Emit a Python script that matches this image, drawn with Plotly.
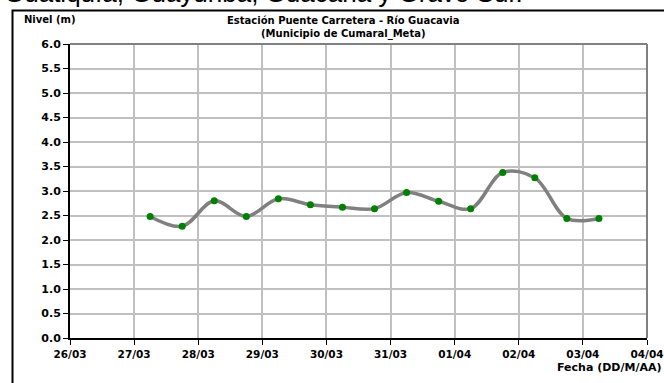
import plotly.graph_objects as go

fechas = ["2013-03-27 06:00", "2013-03-27 18:00", "2013-03-28 06:00", "2013-03-28 18:00",
          "2013-03-29 06:00", "2013-03-29 18:00", "2013-03-30 06:00", "2013-03-30 18:00",
          "2013-03-31 06:00", "2013-03-31 18:00", "2013-04-01 06:00", "2013-04-01 18:00",
          "2013-04-02 06:00", "2013-04-02 18:00", "2013-04-03 06:00"]
nivel = [2.48, 2.28, 2.80, 2.48, 2.84, 2.72, 2.67, 2.64, 2.97, 2.79, 2.64, 3.38, 3.27, 2.44, 2.44]

x_ticks = ["2013-03-26", "2013-03-27", "2013-03-28", "2013-03-29", "2013-03-30",
           "2013-03-31", "2013-04-01", "2013-04-02", "2013-04-03", "2013-04-04"]
x_labels = ["26/03", "27/03", "28/03", "29/03", "30/03", "31/03", "01/04", "02/04", "03/04", "04/04"]
y_ticks = [0.0, 0.5, 1.0, 1.5, 2.0, 2.5, 3.0, 3.5, 4.0, 4.5, 5.0, 5.5, 6.0]

FONT = "DejaVu Sans, Arial, sans-serif"
BIG = "Liberation Sans, Arial, sans-serif"

fig = go.Figure()
fig.add_trace(go.Scatter(
    x=fechas, y=nivel, mode="lines",
    line=dict(color="#808080", width=3.5, shape="spline", smoothing=1.0),
    hoverinfo="skip", showlegend=False))
fig.add_trace(go.Scatter(
    x=fechas, y=nivel, mode="markers",
    marker=dict(color="#008000", size=7),
    showlegend=False))

fig.update_layout(
    width=664, height=383,
    margin=dict(l=70, r=17, t=44, b=45, autoexpand=False),
    paper_bgcolor="white", plot_bgcolor="white",
    font=dict(family=FONT, size=10, color="black"),
    xaxis=dict(
        range=["2013-03-26", "2013-04-04"],
        tickvals=x_ticks, ticktext=["<b>%s</b>" % t for t in x_labels],
        showgrid=True, gridcolor="#c0c0c0", gridwidth=1.5,
        showline=True, linecolor="black", linewidth=2,
        ticks="outside", ticklen=5, tickcolor="black", tickwidth=1,
        tickfont=dict(family=FONT, size=10.5, color="black"),
        automargin=False, zeroline=False),
    yaxis=dict(
        range=[0, 6], tickvals=y_ticks,
        ticktext=["<b>%.1f</b>" % v for v in y_ticks],
        showgrid=True, gridcolor="#c0c0c0", gridwidth=1.5,
        showline=True, linecolor="black", linewidth=2,
        ticks="outside", ticklen=5, tickcolor="black", tickwidth=1,
        tickfont=dict(family=FONT, size=11, color="black"),
        automargin=False, zeroline=False),
)

# grey top/right border of the plot area
fig.add_shape(type="line", xref="paper", yref="paper", x0=0, x1=1, y0=1, y1=1,
              line=dict(color="#808080", width=2))
fig.add_shape(type="line", xref="paper", yref="paper", x0=1, x1=1, y0=0, y1=1,
              line=dict(color="#808080", width=2))

# outer black frame
fig.add_shape(type="rect", xref="paper", yref="paper",
              x0=(12.5 - 70) / 577, x1=(680 - 70) / 577,
              y0=(338 - 400) / 294, y1=(338 - 10.5) / 294,
              line=dict(color="black", width=2), fillcolor="rgba(0,0,0,0)")

# title
fig.add_annotation(xref="paper", yref="paper", x=(343 - 70) / 577, y=(338 - 13) / 294,
                   text="<b>Estación Puente Carretera - Río Guacavia<br>(Municipio de Cumaral_Meta)</b>",
                   showarrow=False, xanchor="center", yanchor="top",
                   font=dict(family=FONT, size=10, color="black"))
fig.add_annotation(xref="paper", yref="paper", x=(22 - 70) / 577, y=(338 - 20) / 294,
                   text="<b>Nivel (m)</b>", showarrow=False, xanchor="left", yanchor="middle",
                   font=dict(family=FONT, size=10, color="black"))
fig.add_annotation(xref="paper", yref="paper", x=(663 - 70) / 577, y=(338 - 368) / 294,
                   text="<b>Fecha (DD/M/AA)</b>", showarrow=False, xanchor="right", yanchor="middle",
                   font=dict(family=FONT, size=11, color="black"))
# cut-off document text above the chart
fig.add_annotation(xref="paper", yref="paper", x=(2 - 70) / 577, y=(338 - 10) / 294,
                   text="Guatiquía, Guayuriba, Guacana y Gravo Sur.", showarrow=False,
                   xanchor="left", yanchor="bottom",
                   font=dict(family=BIG, size=26, color="black"))

fig.write_html("out.html", config={"displayModeBar": False},
               post_script="document.body.style.margin='0';")
